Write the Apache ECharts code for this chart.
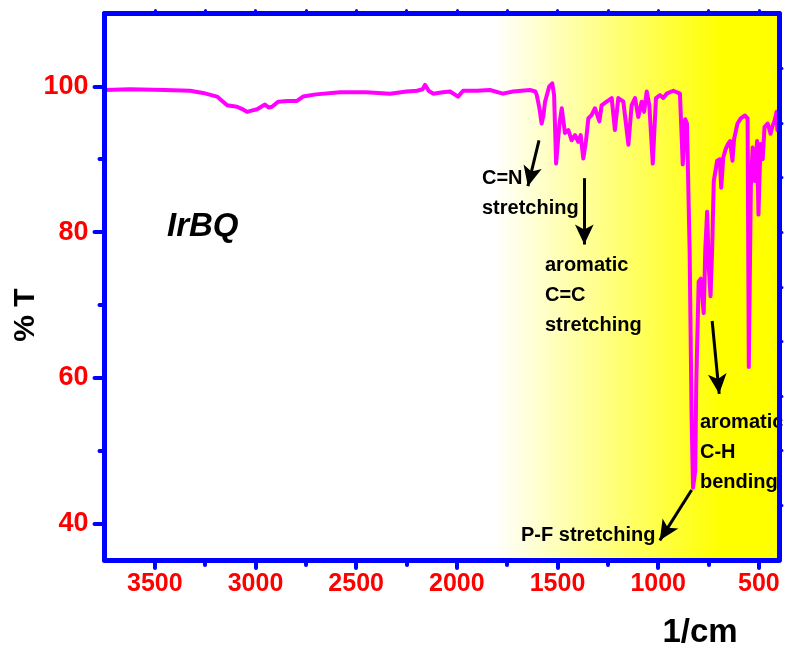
<!DOCTYPE html>
<html>
<head>
<meta charset="utf-8">
<script src="https://cdn.jsdelivr.net/npm/echarts@6/dist/echarts.min.js"></script>
<style>
html,body{margin:0;padding:0;background:#ffffff;}
#chart{width:785px;height:650px;}
</style>
</head>
<body>
<div id="chart"></div>
<script>
// FTIR spectrum of IrBQ: wavenumber (cm^-1) and transmittance (%)
const wavenumber = [
  3750, 3623, 3450, 3325, 3261, 3191, 3141, 3092, 3060, 3042, 3015, 2992, 2953, 2935, 2918, 2888,
  2840, 2794, 2764, 2700, 2580, 2450, 2332, 2250, 2198, 2170, 2158, 2140, 2118, 2070, 2034, 1994,
  1969, 1900, 1836, 1771, 1721, 1637, 1610, 1603, 1590, 1579, 1570, 1562, 1541, 1526, 1517, 1507,
  1491, 1479, 1463, 1446, 1430, 1413, 1397, 1385, 1372, 1359, 1347, 1330, 1314, 1292, 1281, 1256,
  1231, 1215, 1198, 1173, 1148, 1132, 1115, 1099, 1082, 1070, 1057, 1044, 1027, 1011, 991, 975,
  958, 925, 892, 878, 866, 857, 844, 834, 827, 816, 811, 799, 788, 774, 766, 757,
  749, 740, 732, 724, 707, 694, 687, 677, 665, 653, 643, 631, 623, 606, 590, 569,
  556, 550, 540, 531, 519, 509, 502, 492, 481, 472, 456, 442, 434, 422, 412, 408, 400
];
const transmittance = [
  99.5, 99.6, 99.5, 99.4, 99.1, 98.6, 97.4, 97.2, 96.8, 96.5, 96.7, 96.85, 97.5, 97.1, 97.2, 97.9,
  98.0, 98.0, 98.6, 98.9, 99.2, 99.2, 99.0, 99.3, 99.4, 99.6, 100.2, 99.4, 99.0, 99.2, 99.3, 98.6,
  99.4, 99.4, 99.5, 99.0, 99.3, 99.5, 99.3, 98.8, 97.0, 94.9, 96.0, 97.9, 100.0, 100.4, 98.8, 89.4,
  94.7, 97.0, 93.6, 94.0, 92.6, 93.3, 92.4, 93.3, 90.1, 92.4, 95.6, 96.1, 97.0, 95.2, 97.4, 97.9,
  98.4, 94.0, 98.4, 97.9, 92.0, 97.4, 98.4, 95.8, 97.9, 96.5, 99.3, 97.4, 89.4, 98.4, 98.8, 98.4,
  99.0, 99.4, 99.0, 89.3, 95.5, 94.9, 77.7, 54.6, 44.9, 47.2, 59.2, 73.2, 73.6, 68.9, 77.7, 82.8,
  75.4, 71.2, 77.7, 87.0, 89.8, 90.0, 86.1, 90.2, 91.4, 92.1, 92.5, 89.8, 92.8, 94.9, 95.6, 96.0,
  95.6, 61.5, 86.1, 91.6, 87.0, 92.5, 82.4, 92.1, 90.0, 94.4, 94.9, 93.5, 94.4, 95.3, 96.5, 94.0, 95.0
];

// axis ranges and tick positions
const xRange = [400, 3750];
const yRange = [35, 110];
const xMajorTicks = [500, 1000, 1500, 2000, 2500, 3000, 3500];
const xMinorTicks = [750, 1250, 1750, 2250, 2750, 3250];
const xTopTicks = [500, 750, 1000, 1250, 1500, 1750, 2000, 2250, 2500, 2750, 3000, 3250, 3500];
const yMajorTicks = [40, 60, 80, 100];
const yMinorTicks = [50, 70, 90];
const yRightTicks = [42.5, 50, 57.5, 65, 72.5, 80, 87.5, 95, 102.5];

// shaded fingerprint region (white fading to yellow)
const shadeRange = [1810, 400];

// band assignments: arrow start/end in [cm^-1, %T]
const bandArrows = [
  [[1592, 92.6], [1647, 86.3]],   // C=N stretching
  [[1367, 87.4], [1367, 78.3]],   // aromatic C=C stretching
  [[732, 67.8], [697, 57.8]],     // aromatic C-H bending
  [[834, 44.6], [992, 37.7]]      // P-F stretching
];

const BLUE = '#0000ff';
const RED = '#ff0000';
const FONT = '"Liberation Sans", Arial, sans-serif';

const points = wavenumber.map((w, i) => [w, transmittance[i]]);

function xAxisBase(extra) {
  return Object.assign({
    type: 'value', min: xRange[0], max: xRange[1], inverse: true,
    splitLine: { show: false }, z: 10
  }, extra);
}
function yAxisBase(extra) {
  return Object.assign({
    type: 'value', min: yRange[0], max: yRange[1],
    splitLine: { show: false }, z: 10
  }, extra);
}

const chart = echarts.init(document.getElementById('chart'), null, { renderer: 'canvas' });

chart.setOption({
  animation: false,
  backgroundColor: '#ffffff',
  grid: { left: 104.5, right: 6, top: 13.5, bottom: 90, containLabel: false, outerBoundsMode: 'none' },
  xAxis: [
    xAxisBase({
      position: 'bottom',
      axisLine: { show: true, lineStyle: { color: BLUE, width: 5, cap: 'round' } },
      axisTick: { show: true, customValues: xMajorTicks, length: 8, inside: false,
        lineStyle: { color: BLUE, width: 4, cap: 'round' } },
      axisLabel: { show: true, customValues: xMajorTicks, margin: 12,
        formatter: v => String(v), hideOverlap: false,
        color: RED, fontFamily: FONT, fontWeight: 'bold', fontSize: 25 }
    }),
    xAxisBase({
      position: 'bottom',
      axisLine: { show: false },
      axisTick: { show: true, customValues: xMinorTicks, length: 5,
        lineStyle: { color: BLUE, width: 4, cap: 'round' } },
      axisLabel: { show: false }
    }),
    xAxisBase({
      position: 'top',
      axisLine: { show: true, lineStyle: { color: BLUE, width: 5, cap: 'round' } },
      axisTick: { show: true, customValues: xTopTicks, length: 3,
        lineStyle: { color: BLUE, width: 3, cap: 'round' } },
      axisLabel: { show: false }
    })
  ],
  yAxis: [
    yAxisBase({
      position: 'left',
      axisLine: { show: true, lineStyle: { color: BLUE, width: 5, cap: 'round' } },
      axisTick: { show: true, customValues: yMajorTicks, length: 10,
        lineStyle: { color: BLUE, width: 4, cap: 'round' } },
      axisLabel: { show: true, customValues: yMajorTicks, margin: 16,
        color: RED, fontFamily: FONT, fontWeight: 'bold', fontSize: 27 }
    }),
    yAxisBase({
      position: 'left',
      axisLine: { show: false },
      axisTick: { show: true, customValues: yMinorTicks, length: 5,
        lineStyle: { color: BLUE, width: 4, cap: 'round' } },
      axisLabel: { show: false }
    }),
    yAxisBase({
      position: 'right',
      axisLine: { show: true, lineStyle: { color: BLUE, width: 5, cap: 'round' } },
      axisTick: { show: true, customValues: yRightTicks, length: 3,
        lineStyle: { color: BLUE, width: 3, cap: 'round' } },
      axisLabel: { show: false }
    })
  ],
  series: [
    {
      type: 'line',
      xAxisIndex: 0,
      yAxisIndex: 0,
      data: points,
      showSymbol: false,
      symbol: 'none',
      lineStyle: { color: '#ff00ff', width: 4, join: 'round' },
      z: 3,
      markArea: {
        silent: true,
        z: 1,
        itemStyle: {
          color: new echarts.graphic.LinearGradient(0, 0, 1, 0, [
            { offset: 0, color: '#ffffff' },
            { offset: 0.8, color: '#ffff00' },
            { offset: 1, color: '#ffff00' }
          ])
        },
        data: [[
          { xAxis: shadeRange[0], yAxis: yRange[0] },
          { xAxis: shadeRange[1], yAxis: yRange[1] }
        ]]
      },
      markLine: {
        silent: true,
        symbol: ['none', 'arrow'],
        symbolSize: [14, 20],
        label: { show: false },
        lineStyle: { color: '#000000', width: 3, type: 'solid' },
        data: bandArrows.map(a => [{ coord: a[0] }, { coord: a[1] }])
      }
    }
  ],
  graphic: [
    { type: 'text', z: 5, style: { text: 'IrBQ', x: 167, y: 227, textVerticalAlign: 'middle',
      font: 'italic bold 33px ' + FONT, fill: '#000000' } },
    { type: 'text', z: 5, style: { text: 'C=N\nstretching', x: 482, y: 163, lineHeight: 30,
      textVerticalAlign: 'top', font: 'bold 20px ' + FONT, fill: '#000000' } },
    { type: 'text', z: 5, style: { text: 'aromatic\nC=C\nstretching', x: 545, y: 250.5, lineHeight: 30,
      textVerticalAlign: 'top', font: 'bold 20px ' + FONT, fill: '#000000' } },
    { type: 'text', z: 5, style: { text: 'aromatic\nC-H\nbending', x: 700, y: 407.5, lineHeight: 30,
      textVerticalAlign: 'top', font: 'bold 20px ' + FONT, fill: '#000000' } },
    { type: 'text', z: 5, style: { text: 'P-F stretching', x: 521, y: 535, textVerticalAlign: 'middle',
      font: 'bold 20px ' + FONT, fill: '#000000' } },
    { type: 'text', z: 5, rotation: Math.PI / 2, x: 26, y: 315,
      style: { text: '% T', x: 0, y: 0, textAlign: 'center', textVerticalAlign: 'middle',
        font: 'bold 30px ' + FONT, fill: '#000000' } },
    { type: 'text', z: 5, style: { text: '1/cm', x: 700, y: 633, textAlign: 'center', textVerticalAlign: 'middle',
      font: 'bold 33px ' + FONT, fill: '#000000' } }
  ]
});
</script>
</body>
</html>
